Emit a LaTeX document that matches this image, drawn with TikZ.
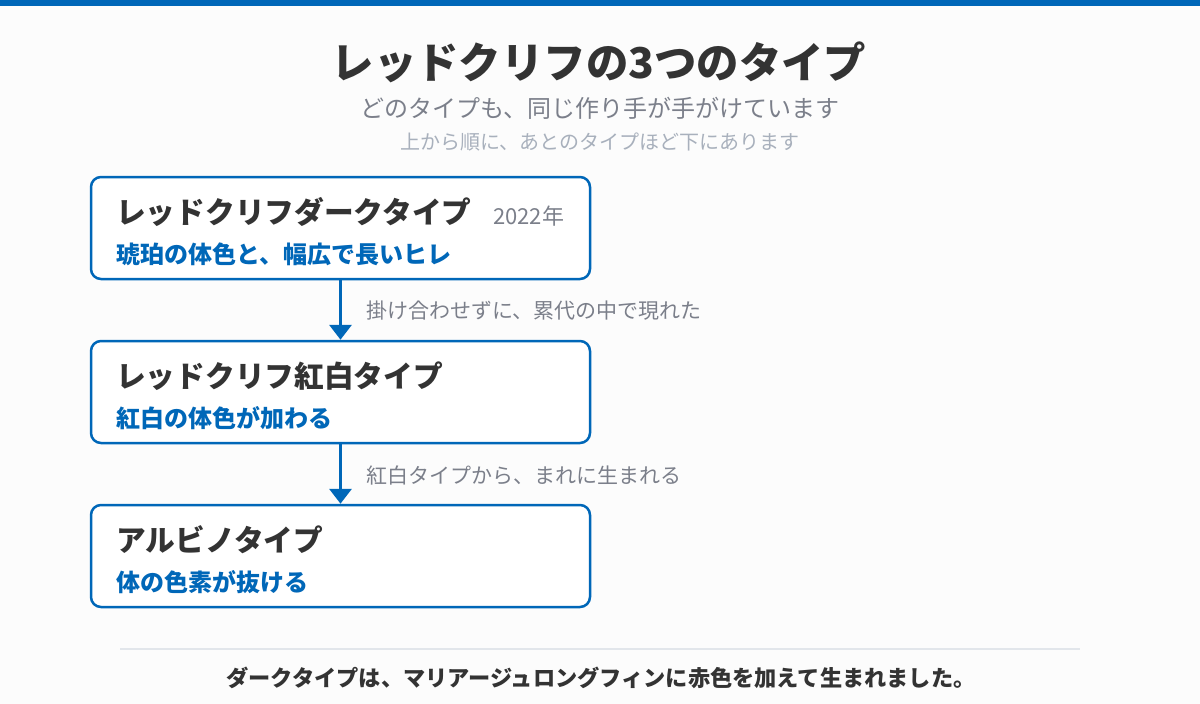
\documentclass[tikz,border=0pt]{standalone}
\usepackage{fontspec}
\setmainfont{Noto Sans CJK JP}
\usetikzlibrary{arrows.meta}
\definecolor{bluec}{HTML}{0067B8}
\definecolor{darkc}{HTML}{333333}
\definecolor{grayc}{HTML}{7B7F8A}
\definecolor{lgrayc}{HTML}{A8B0BC}
\definecolor{bgc}{HTML}{FCFCFC}
\definecolor{linec}{HTML}{E2E6EB}
\tikzset{
  typebox/.style={draw=bluec, line width=2.5pt, rounded corners=10pt, fill=white, minimum width=499pt, minimum height=102pt, inner sep=0pt},
  boxtitle/.style={anchor=west, inner sep=0pt, text=darkc, font=\fontsize{29.7}{34}\selectfont\bfseries},
  boxsub/.style={anchor=west, inner sep=0pt, text=bluec, font=\fontsize{24}{28}\selectfont\bfseries},
  yeartxt/.style={anchor=west, inner sep=0pt, text=grayc, font=\fontsize{22}{26}\selectfont},
  arrlabel/.style={anchor=west, inner sep=0pt, text=grayc, font=\fontsize{21}{25}\selectfont},
  flowarrow/.style={draw=bluec, line width=3.5pt, -{Triangle[width=22pt,length=15pt]}}
}
\begin{document}
\begin{tikzpicture}[x=1pt,y=-1pt]
\useasboundingbox (0,0) rectangle (1200,704);
\fill[bgc] (0,0) rectangle (1200,704);
\fill[bluec] (0,0) rectangle (1200,6);
\node[inner sep=0pt, text=darkc, font=\fontsize{42.4}{50}\selectfont\bfseries] (title) at (599,62) {レッドクリフの3つのタイプ};
\node[inner sep=0pt, text=grayc, font=\fontsize{24}{29}\selectfont] (sub1) at (600,108) {どのタイプも、同じ作り手が手がけています};
\node[inner sep=0pt, text=lgrayc, font=\fontsize{20}{24}\selectfont] (sub2) at (600,142) {上から順に、あとのタイプほど下にあります};

\node[typebox] (b1) at (340.5,228) {};
\node[typebox] (b2) at (340.5,392) {};
\node[typebox] (b3) at (340.5,556) {};

\node[boxtitle] (t1) at (116,212) {レッドクリフダークタイプ};
\node[yeartxt] (y1) at (493,216) {2022年};
\node[boxsub] (s1) at (116,254) {琥珀の体色と、幅広で長いヒレ};

\node[boxtitle] (t2) at (116,376) {レッドクリフ紅白タイプ};
\node[boxsub] (s2) at (116,418) {紅白の体色が加わる};

\node[boxtitle] (t3) at (116,540) {アルビノタイプ};
\node[boxsub] (s3) at (116,582) {体の色素が抜ける};

\draw[flowarrow] (b1.south) -- (b2.north);
\draw[flowarrow] (b2.south) -- (b3.north);
\node[arrlabel] (l1) at (366,311) {掛け合わせずに、累代の中で現れた};
\node[arrlabel] (l2) at (366,475) {紅白タイプから、まれに生まれる};

\coordinate (sepL) at (120,649);
\coordinate (sepR) at (1080,649);
\draw[linec, line width=2pt] (sepL) -- (sepR);
\node[inner sep=0pt, text=darkc, font=\fontsize{22.2}{27}\selectfont\bfseries] (foot) at (601,678) {ダークタイプは、マリアージュロングフィンに赤色を加えて生まれました。};
\end{tikzpicture}
\end{document}
